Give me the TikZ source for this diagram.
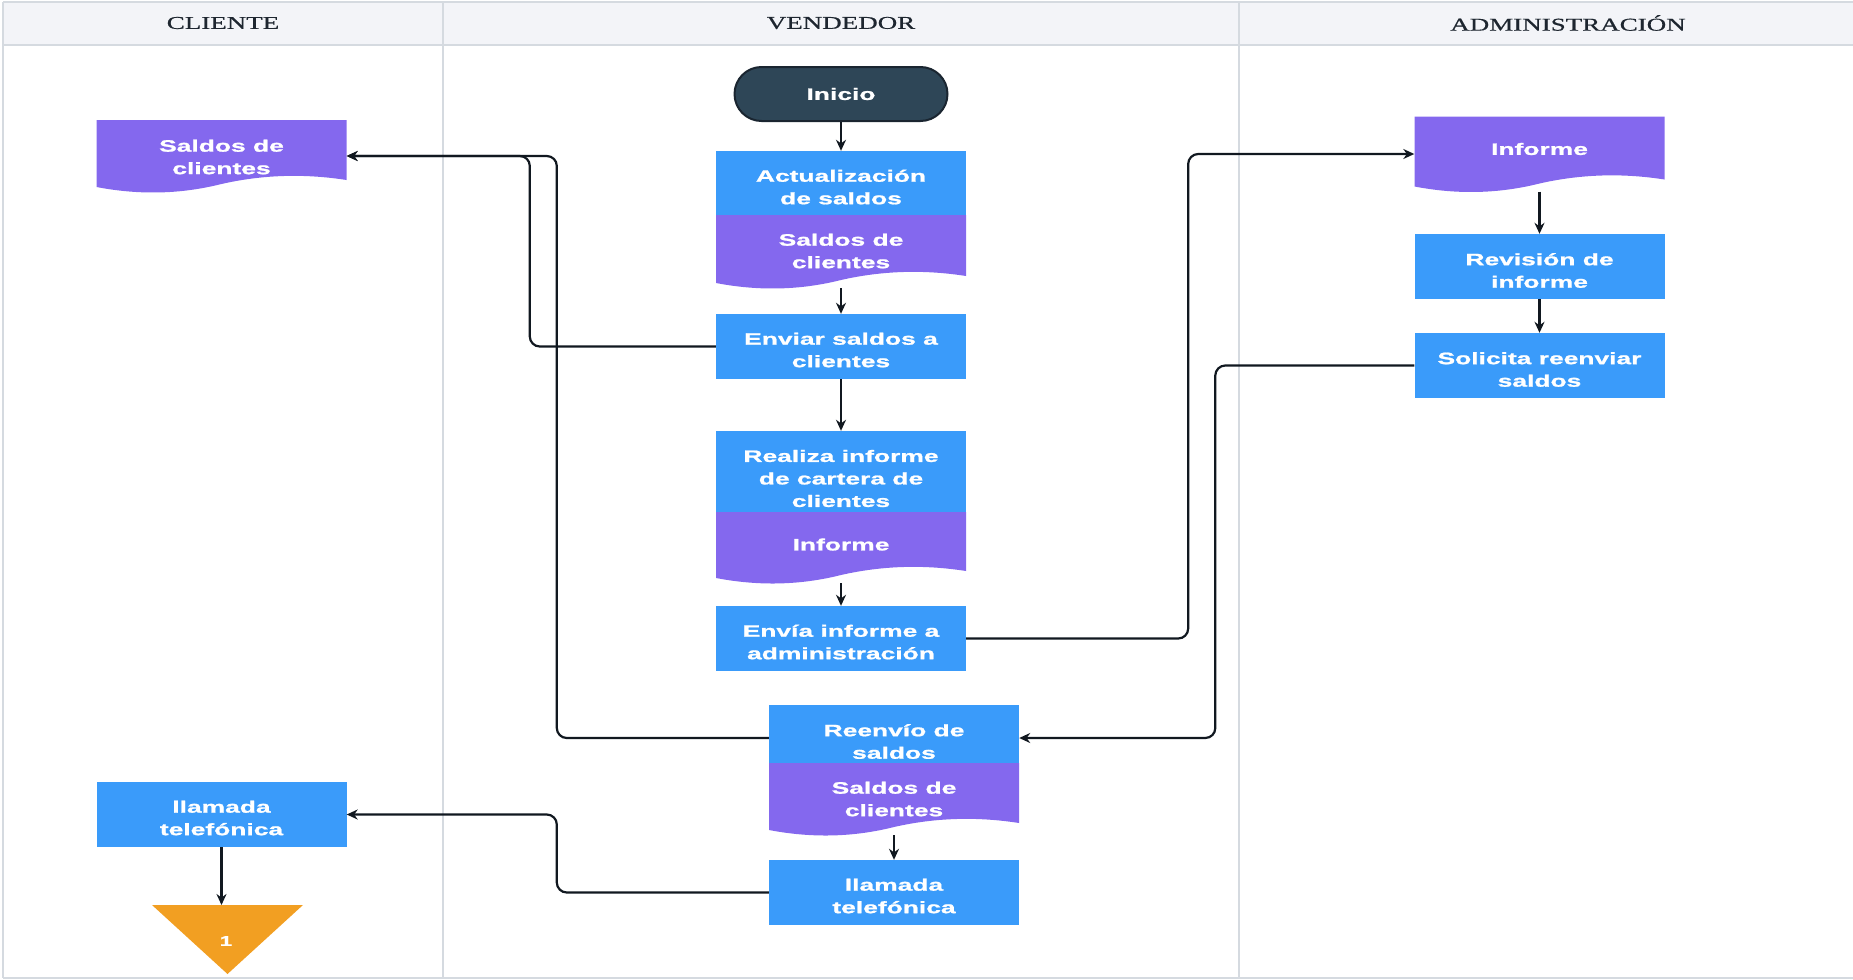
\documentclass[tikz,border=0pt]{standalone}
\usepackage{fontspec}
\newfontfamily\boxfont[FakeStretch=1.6, BoldFeatures={FakeBold=1.2}]{Liberation Sans}
\newfontfamily\headfont[FakeStretch=1.5, FakeBold=0.6]{Liberation Serif}
\usetikzlibrary{arrows.meta,calc}
\definecolor{bluebox}{HTML}{3A9BFA}
\definecolor{docpurple}{HTML}{8468EE}
\definecolor{termfill}{HTML}{2E4657}
\definecolor{termline}{HTML}{1A2530}
\definecolor{triorange}{HTML}{F29F22}
\definecolor{headfill}{HTML}{F3F4F8}
\definecolor{laneline}{HTML}{D5DAE0}
\definecolor{headtext}{HTML}{1E2630}
\definecolor{connline}{HTML}{111820}
\begin{document}
\begin{tikzpicture}[x=1pt,y=-1pt,
  boxtext/.style={text=white, font=\boxfont\bfseries\fontsize{16.5}{22.5}\selectfont, align=center, inner sep=0pt},
  proc/.style={rectangle, fill=bluebox, minimum width=250pt, minimum height=#1, inner sep=0pt},
  doc/.style={rectangle, minimum width=250pt, minimum height=#1, inner sep=0pt,
    path picture={
      \fill[docpurple] let \p1=(path picture bounding box.north west), \p2=(path picture bounding box.south east) in
        (\x1,\y2+5pt) -- (\x1,\y1) -- (\x2,\y1) -- (\x2,\y2+12pt)
        .. controls (\x2-41.7pt,\y2+18.5pt) and (\x2-83.3pt,\y2+17.5pt) .. (\x1+125pt,\y2+8pt)
        .. controls (\x1+83.3pt,\y2-2.5pt) and (\x1+41.7pt,\y2-3pt) .. (\x1,\y2+5pt) -- cycle;
    }},
  term/.style={boxtext, rectangle, rounded corners=27pt, fill=termfill, draw=termline, line width=2pt, minimum width=213pt, minimum height=54pt},
  head/.style={text=headtext, font=\headfont\fontsize{18}{20}\selectfont, inner sep=0pt},
  lane/.style={draw=laneline, line width=2pt},
  conn/.style={draw=connline, line width=2.2pt, rounded corners=10pt, -{Stealth[length=11pt,width=10pt]}}
]
\useasboundingbox (0,0) rectangle (1853,980);
% lanes
\fill[headfill] (3,2) rectangle (1853,45);
\draw[lane] (3,2) -- (1853,2);
\draw[lane] (3,45) -- (1853,45);
\draw[lane] (3,2) -- (3,978);
\draw[lane, line width=1.5pt] (3,978) -- (1853,978);
\draw[lane, line width=2.5pt] (443,2) -- (443,978);
\draw[lane, line width=2.5pt] (1239,2) -- (1239,978);
\node[head] (h1) at (223,23) {CLIENTE};
\node[head] (h2) at (841,23) {VENDEDOR};
\node[head] (h3) at (1568,23) {ADMINISTRACIÓN};
% vendedor
\node[term] (ini) at (841,94) {Inicio};
\node[proc=64pt] (act) at (841,183) {};
\node[doc=73pt] (doc1) at (841,251.5) {};
\node[proc=65pt] (env) at (841,346.5) {};
\node[proc=81pt] (rea) at (841,471.5) {};
\node[doc=71pt] (doc2) at (841,547.5) {};
\node[proc=65pt] (envia) at (841,638.5) {};
\node[proc=58pt] (reen) at (894,734) {};
\node[doc=72pt] (doc3) at (894,799) {};
\node[proc=65pt] (llamv) at (894,892.5) {};
% cliente
\node[doc=72pt] (clidoc) at (221.5,156) {};
\node[proc=65pt] (clillam) at (221.5,814.5) {};
\fill[triorange] (152,905) -- (303,905) -- (227.5,974) -- cycle;
\coordinate (tri) at (221.5,905);
% administracion
\node[doc=75pt] (adminf) at (1539.5,154) {};
\node[proc=65pt] (rev) at (1539.5,266.5) {};
\node[proc=65pt] (sol) at (1539.5,365.5) {};
% texts
\node[boxtext] (actT) at (841,187) {Actualización\\de saldos};
\node[boxtext] (doc1T) at (841,251) {Saldos de\\clientes};
\node[boxtext] (envT) at (841,350) {Enviar saldos a\\clientes};
\node[boxtext] (reaT) at (841,478.5) {Realiza informe\\de cartera de\\clientes};
\node[boxtext] (doc2T) at (841,544.5) {Informe};
\node[boxtext] (enviaT) at (841,642) {Envía informe a\\administración};
\node[boxtext] (reenT) at (894,741.5) {Reenvío de\\saldos};
\node[boxtext] (doc3T) at (894,799) {Saldos de\\clientes};
\node[boxtext] (llamvT) at (894,896) {llamada\\telefónica};
\node[boxtext] (clidocT) at (221.5,157) {Saldos de\\clientes};
\node[boxtext] (clillamT) at (221.5,818) {llamada\\telefónica};
\node[boxtext, font=\boxfont\bfseries\fontsize{14}{16}\selectfont] (trilabel) at (226,941) {1};
\node[boxtext] (adminfT) at (1539.5,149) {Informe};
\node[boxtext] (revT) at (1539.5,270.5) {Revisión de\\informe};
\node[boxtext] (solT) at (1539.5,369.5) {Solicita reenviar\\saldos};
% connectors
\draw[conn] (ini) -- (act);
\draw[conn] (doc1.south) -- (env.north);
\draw[conn] (env) -- (rea);
\draw[conn] (doc2.south) -- (envia.north);
\draw[conn] (doc3.south) -- (llamv.north);
\draw[conn] (adminf.south) -- (rev.north);
\draw[conn] (rev) -- (sol);
\draw[conn] (clillam.south) -- (tri);
\draw[conn] (env.west) -- ++(-186,0) |- (clidoc.east);
\draw[conn] ([yshift=-4pt]reen.west) -- ++(-212,0) |- (clidoc.east);
\draw[conn] (envia.east) -- ++(222,0) |- (adminf.west);
\draw[conn] (sol.west) -- ++(-199,0) |- ([yshift=-4pt]reen.east);
\draw[conn] (llamv.west) -- ++(-212,0) |- (clillam.east);
\end{tikzpicture}
\end{document}
